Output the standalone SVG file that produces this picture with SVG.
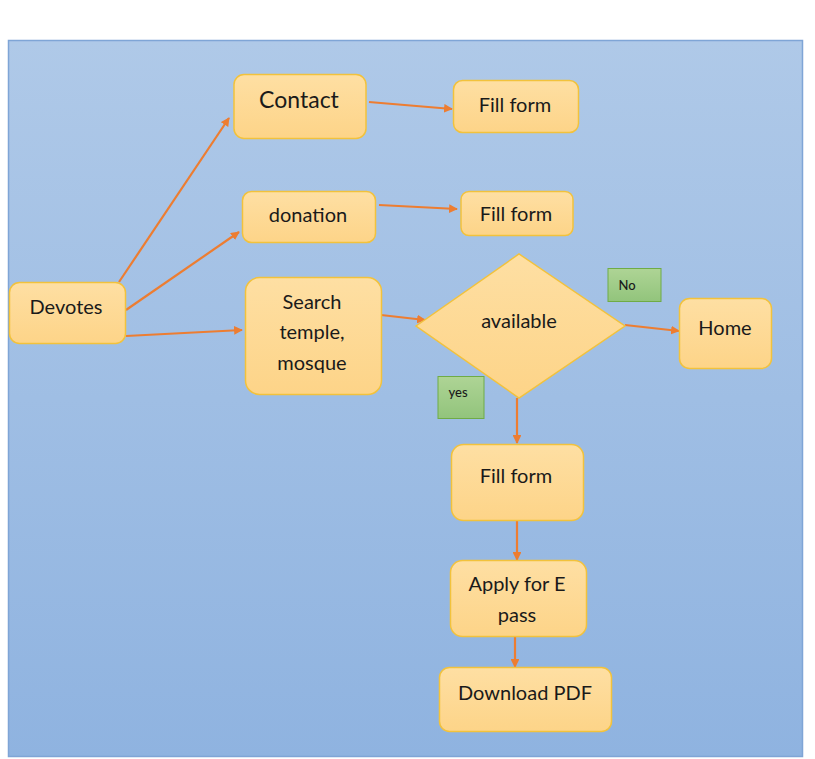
<svg xmlns="http://www.w3.org/2000/svg" width="815" height="759" viewBox="0 0 815 759">
<defs>
<linearGradient id="bg" x1="0" y1="0" x2="0" y2="1"><stop offset="0" stop-color="#afc9e8"/><stop offset="1" stop-color="#8fb3e0"/></linearGradient>
<linearGradient id="nf" x1="0" y1="0" x2="0" y2="1"><stop offset="0" stop-color="#fedfa3"/><stop offset="1" stop-color="#fdd488"/></linearGradient>
<linearGradient id="gf" x1="0" y1="0" x2="0" y2="1"><stop offset="0" stop-color="#aed495"/><stop offset="1" stop-color="#92c47c"/></linearGradient>
<marker id="ah" viewBox="0 0 10 10" refX="9" refY="5" markerWidth="4" markerHeight="4" orient="auto"><path d="M0,0 L10,5 L0,10 z" fill="#ed7d31"/></marker>
<style>
.n{fill:url(#nf);stroke:#f2c23c;stroke-width:1.5}
.g{fill:url(#gf);stroke:#6fab46;stroke-width:1}
.t{font-family:Lato,"Liberation Sans",sans-serif;font-size:20px;fill:#1a1a1a;text-anchor:middle}
.s{font-family:Lato,"Liberation Sans",sans-serif;font-size:13px;font-weight:500;fill:#1a1a1a;text-anchor:middle}
.c path{stroke:#ed7d31;stroke-width:2.2;fill:none;marker-end:url(#ah)}
</style>
</defs>
<rect x="0" y="0" width="815" height="759" fill="#ffffff"/>
<rect x="8.5" y="40.5" width="794" height="716" fill="url(#bg)" stroke="#7fa5d6" stroke-width="1.5"/>
<g class="c" id="connectors">
<path d="M119,282 L229,118"/>
<path d="M126,310 L239,232"/>
<path d="M126,336 L242,330"/>
<path d="M369,102 L452,109"/>
<path d="M379,205 L457,209"/>
<path d="M381,315 L425,320"/>
<path d="M625,325 L679,331"/>
<path d="M517,398 L517,443"/>
<path d="M517,520 L517,560"/>
<path d="M515,636 L515,667"/>
</g>
<g id="contact"><rect class="n" x="234" y="74.5" width="132" height="64" rx="10"/><text class="t" x="299" y="108" style="font-size:23px">Contact</text></g>
<g id="fillform1"><rect class="n" x="453.5" y="80.5" width="125" height="52" rx="9"/><text class="t" x="515" y="112">Fill form</text></g>
<g id="donation"><rect class="n" x="242.5" y="191.5" width="133" height="51" rx="9"/><text class="t" x="308" y="222">donation</text></g>
<g id="fillform2"><rect class="n" x="461" y="191.5" width="112" height="44" rx="8"/><text class="t" x="516" y="221">Fill form</text></g>
<g id="devotes"><rect class="n" x="9.5" y="282.5" width="116" height="61" rx="10"/><text class="t" x="66" y="314">Devotes</text></g>
<g id="search"><rect class="n" x="245.5" y="277.5" width="136" height="117" rx="14"/><text class="t" x="312" y="309">Search</text><text class="t" x="312" y="339">temple,</text><text class="t" x="312" y="370">mosque</text></g>
<g id="available"><polygon class="n" points="416,326 519,254 625,326 519,398"/><text class="t" x="519" y="328">available</text></g>
<g id="no"><rect class="g" x="608" y="268.5" width="53" height="33"/><text class="s" x="627" y="290">No</text></g>
<g id="home"><rect class="n" x="679.5" y="298.5" width="92" height="70" rx="10"/><text class="t" x="725" y="335">Home</text></g>
<g id="yes"><rect class="g" x="438" y="376.5" width="46" height="42"/><text class="s" x="458" y="397">yes</text></g>
<g id="fillform3"><rect class="n" x="451.5" y="444.5" width="132" height="76" rx="12"/><text class="t" x="516" y="483">Fill form</text></g>
<g id="apply"><rect class="n" x="450.5" y="560.5" width="136" height="76" rx="12"/><text class="t" x="517" y="591">Apply for E</text><text class="t" x="517" y="622">pass</text></g>
<g id="download"><rect class="n" x="439.5" y="667.5" width="172" height="64" rx="10"/><text class="t" x="525" y="700">Download PDF</text></g>
</svg>
